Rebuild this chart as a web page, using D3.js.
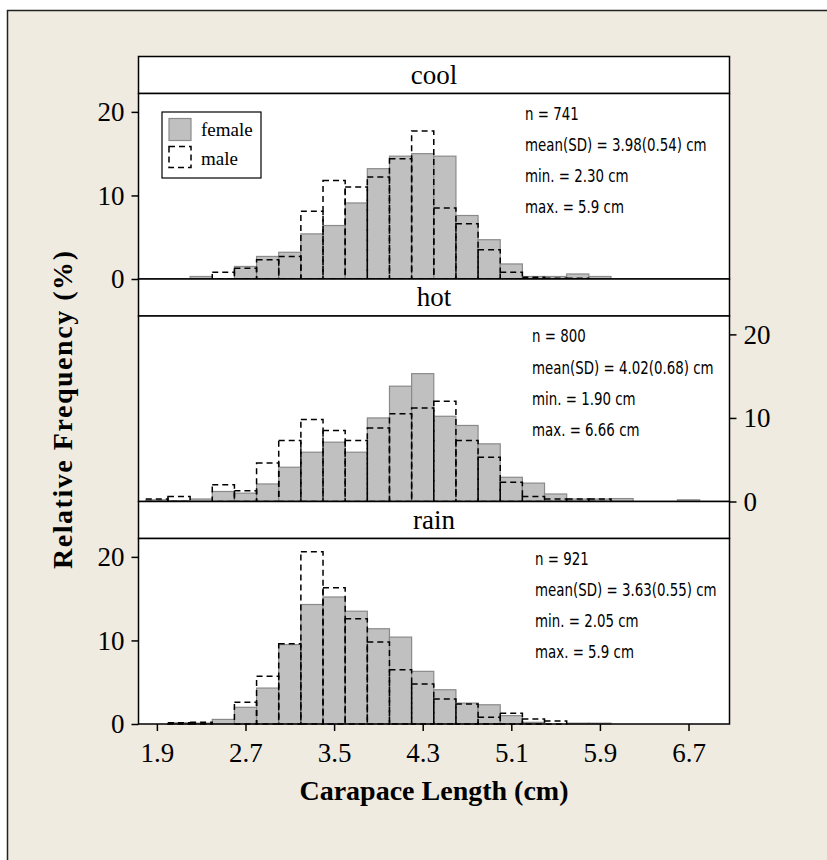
<!DOCTYPE html>
<html>
<head>
<meta charset="utf-8">
<script src="https://cdn.jsdelivr.net/npm/d3@7"></script>
<style>
  body { margin: 0; background: #fff; }
  .tick text { font-family: "Liberation Serif", "Times New Roman", serif; }
</style>
</head>
<body>
<div id="vis"></div>
<script>
const FRAME_WIDTH = 827;
const FRAME_HEIGHT = 860;

// bin midpoints (cm), 0.2 wide
const bins = [1.9, 2.1, 2.3, 2.5, 2.7, 2.9, 3.1, 3.3, 3.5, 3.7, 3.9, 4.1, 4.3,
              4.5, 4.7, 4.9, 5.1, 5.3, 5.5, 5.7, 5.9, 6.1, 6.3, 6.5, 6.7, 6.9];

// relative frequency (%) per bin
const coolFemale = [0, 0, 0.3, 0, 1.5, 2.7, 3.2, 5.4, 6.4, 9.1, 13.2, 14.7, 15.0,
                    14.7, 7.6, 4.7, 1.8, 0.3, 0.3, 0.6, 0.3, 0, 0, 0, 0, 0];
const coolMale = [0, 0, 0, 0.8, 1.3, 2.3, 2.7, 8.1, 11.8, 11.0, 12.2, 14.4, 17.7,
                  8.5, 6.6, 3.5, 0.8, 0.2, 0.1, 0.1, 0, 0, 0, 0, 0, 0];
const hotFemale = [0.2, 0.1, 0.3, 1.2, 1.0, 2.1, 4.1, 5.9, 7.1, 5.9, 10.0, 13.8, 15.3,
                   10.2, 9.1, 6.9, 2.9, 2.2, 0.9, 0.3, 0.3, 0.35, 0, 0, 0.2, 0];
const hotMale = [0.3, 0.6, 0, 2.0, 1.3, 4.6, 7.3, 9.8, 8.5, 7.3, 8.8, 10.5, 11.2,
                 12.0, 7.3, 5.3, 2.3, 0.6, 0.3, 0.3, 0.3, 0, 0, 0, 0, 0];
const rainFemale = [0, 0.15, 0.1, 0.55, 2.0, 4.3, 9.5, 14.3, 15.2, 13.5, 11.4, 10.4, 6.3,
                    4.1, 2.5, 2.3, 1.0, 0.2, 0, 0.1, 0.1, 0, 0, 0, 0, 0];
const rainMale = [0, 0.15, 0.2, 0, 2.6, 5.7, 9.6, 20.6, 16.3, 12.6, 9.8, 6.5, 4.8,
                  3.0, 2.4, 0.8, 1.3, 0.6, 0.35, 0, 0, 0, 0, 0, 0, 0];

const panelNames = ['cool', 'hot', 'rain'];
const panelStats = [
  ['n = 741', 'mean(SD) = 3.98(0.54) cm', 'min. = 2.30 cm', 'max. = 5.9 cm'],
  ['n = 800', 'mean(SD) = 4.02(0.68) cm', 'min. = 1.90 cm', 'max. = 6.66 cm'],
  ['n = 921', 'mean(SD) = 3.63(0.55) cm', 'min. = 2.05 cm', 'max. = 5.9 cm']
];
const yTicks = [0, 10, 20];
const xTicks = [1.9, 2.7, 3.5, 4.3, 5.1, 5.9, 6.7];

const panels = [
  {name: panelNames[0], female: coolFemale, male: coolMale, stats: panelStats[0], axis: 'left'},
  {name: panelNames[1], female: hotFemale, male: hotMale, stats: panelStats[1], axis: 'right'},
  {name: panelNames[2], female: rainFemale, male: rainMale, stats: panelStats[2], axis: 'left'}
];

const PLOT_LEFT = 138.5;
const PLOT_RIGHT = 729.5;
const TOP = 56.5;
const STRIP_H = 37;
const PANEL_H = 185.5;
const BIN_W = 0.2;
const STAT_X = [525, 532, 535];

const SERIF = '"Liberation Serif", "Times New Roman", serif';
const NARROW = '"Liberation Sans Narrow", "Arial Narrow", "DejaVu Sans Condensed", sans-serif';

const svg = d3.select('#vis')
  .append('svg')
    .attr('width', FRAME_WIDTH)
    .attr('height', FRAME_HEIGHT);

// beige frame
svg.append('rect')
  .attr('x', 7.5).attr('y', 10.5)
  .attr('width', FRAME_WIDTH).attr('height', FRAME_HEIGHT)
  .attr('fill', '#efebe1')
  .attr('stroke', '#222')
  .attr('stroke-width', 1.5);

const X_SCALE = d3.scaleLinear()
  .domain([1.734, 7.07])
  .range([PLOT_LEFT, PLOT_RIGHT]);

panels.forEach((p, i) => {
  const stripTop = TOP + i * (STRIP_H + PANEL_H);
  const panelTop = stripTop + STRIP_H;
  const panelBottom = panelTop + PANEL_H;

  const Y_SCALE = d3.scaleLinear()
    .domain([0, 22.2])
    .range([panelBottom, panelTop]);

  // strip
  svg.append('rect')
    .attr('x', PLOT_LEFT).attr('y', stripTop)
    .attr('width', PLOT_RIGHT - PLOT_LEFT).attr('height', STRIP_H)
    .attr('fill', '#fff').attr('stroke', '#000').attr('stroke-width', 1.5);
  svg.append('text')
    .attr('x', (PLOT_LEFT + PLOT_RIGHT) / 2)
    .attr('y', stripTop + STRIP_H / 2)
    .attr('dy', '0.32em')
    .attr('text-anchor', 'middle')
    .attr('font-family', SERIF)
    .attr('font-size', 27)
    .text(p.name);

  // panel
  svg.append('rect')
    .attr('x', PLOT_LEFT).attr('y', panelTop)
    .attr('width', PLOT_RIGHT - PLOT_LEFT).attr('height', PANEL_H)
    .attr('fill', '#fff');

  const g = svg.append('g');

  // female bars
  g.selectAll('rect.female')
    .data(bins.map((b, j) => ({x: b, v: p.female[j]})))
    .enter()
    .append('rect')
      .attr('class', 'female')
      .attr('x', (d) => X_SCALE(d.x - BIN_W / 2))
      .attr('width', (d) => X_SCALE(d.x + BIN_W / 2) - X_SCALE(d.x - BIN_W / 2))
      .attr('y', (d) => Y_SCALE(d.v))
      .attr('height', (d) => Y_SCALE(0) - Y_SCALE(d.v))
      .attr('fill', '#c0c0c0')
      .attr('stroke', '#8a8a8a')
      .attr('stroke-width', 1.2);

  // male bars
  g.selectAll('rect.male')
    .data(bins.map((b, j) => ({x: b, v: p.male[j]})))
    .enter()
    .append('rect')
      .attr('class', 'male')
      .attr('x', (d) => X_SCALE(d.x - BIN_W / 2))
      .attr('width', (d) => X_SCALE(d.x + BIN_W / 2) - X_SCALE(d.x - BIN_W / 2))
      .attr('y', (d) => Y_SCALE(d.v))
      .attr('height', (d) => Y_SCALE(0) - Y_SCALE(d.v))
      .attr('fill', 'none')
      .attr('stroke', '#000')
      .attr('stroke-width', 1.5)
      .attr('stroke-dasharray', '6,4');

  // panel border
  svg.append('rect')
    .attr('x', PLOT_LEFT).attr('y', panelTop)
    .attr('width', PLOT_RIGHT - PLOT_LEFT).attr('height', PANEL_H)
    .attr('fill', 'none').attr('stroke', '#000').attr('stroke-width', 1.5);

  // y axis
  const axis = p.axis === 'left' ? d3.axisLeft(Y_SCALE) : d3.axisRight(Y_SCALE);
  svg.append('g')
    .attr('transform', 'translate(' + (p.axis === 'left' ? PLOT_LEFT : PLOT_RIGHT) + ',0)')
    .call(axis.tickValues(yTicks).tickSize(7).tickPadding(7))
    .call((a) => a.select('.domain').remove())
    .call((a) => a.selectAll('line').attr('stroke-width', 1.5))
    .selectAll('text')
      .attr('font-size', 27)
      .attr('fill', '#000');

  // stats, narrow sans
  const stats = svg.append('g')
    .attr('transform', 'translate(' + STAT_X[i] + ',0) scale(0.875,1)');
  stats.selectAll('text')
    .data(p.stats)
    .enter()
    .append('text')
      .attr('x', 0)
      .attr('y', (d, k) => panelTop + 20.5 + k * 31.1)
      .attr('dy', '0.35em')
      .attr('font-family', NARROW)
      .attr('font-size', 17)
      .text((d) => d);

  if (i === 2) {
    svg.append('g')
      .attr('transform', 'translate(0,' + panelBottom + ')')
      .call(d3.axisBottom(X_SCALE).tickValues(xTicks).tickFormat(d3.format('.1f'))
        .tickSize(7).tickPadding(12))
      .call((a) => a.select('.domain').remove())
      .call((a) => a.selectAll('line').attr('stroke-width', 1.5))
      .selectAll('text')
        .attr('font-size', 27)
        .attr('fill', '#000');
  }
});

// legend
const legend = svg.append('g').attr('transform', 'translate(162,112)');
legend.append('rect')
  .attr('width', 99).attr('height', 66)
  .attr('fill', '#fff').attr('stroke', '#000').attr('stroke-width', 1.2);
legend.append('rect')
  .attr('x', 7).attr('y', 6.5).attr('width', 22).attr('height', 22)
  .attr('fill', '#c0c0c0').attr('stroke', '#8a8a8a').attr('stroke-width', 1.2);
legend.append('rect')
  .attr('x', 7).attr('y', 34.5).attr('width', 22).attr('height', 21)
  .attr('fill', 'none').attr('stroke', '#000').attr('stroke-width', 1.5)
  .attr('stroke-dasharray', '6,4');
legend.selectAll('text.lab')
  .data(['female', 'male'])
  .enter()
  .append('text')
    .attr('x', 39)
    .attr('y', (d, k) => 17 + k * 29)
    .attr('dy', '0.35em')
    .attr('font-family', SERIF)
    .attr('font-size', 19)
    .text((d) => d);

// axis titles
svg.append('text')
  .attr('x', (PLOT_LEFT + PLOT_RIGHT) / 2)
  .attr('y', 790)
  .attr('dy', '0.35em')
  .attr('text-anchor', 'middle')
  .attr('font-family', SERIF)
  .attr('font-weight', 'bold')
  .attr('font-size', 28)
  .text('Carapace Length (cm)');

svg.append('text')
  .attr('transform', 'translate(62,410) rotate(-90)')
  .attr('dy', '0.35em')
  .attr('text-anchor', 'middle')
  .attr('font-family', SERIF)
  .attr('font-weight', 'bold')
  .attr('font-size', 28)
  .attr('textLength', 318)
  .attr('lengthAdjust', 'spacing')
  .text('Relative Frequency (%)');
</script>
</body>
</html>
